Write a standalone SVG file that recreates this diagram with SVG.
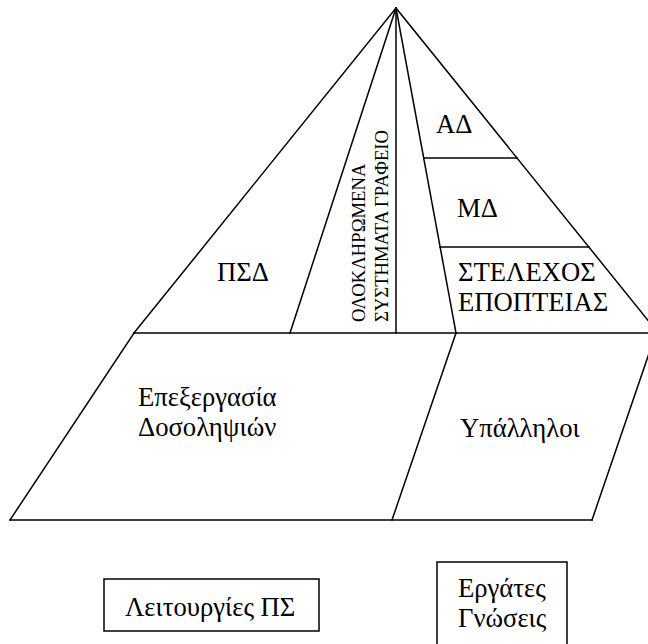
<svg xmlns="http://www.w3.org/2000/svg" width="648" height="644" viewBox="0 0 648 644">
<style>
.ln{stroke:#000;stroke-width:1.5;fill:none;stroke-linecap:square}
.bx{stroke:#000;stroke-width:1.5;fill:#fff}
.t{font-family:"Liberation Serif","DejaVu Serif","Times New Roman",serif;font-size:26.67px;fill:#000}
.v{font-family:"Liberation Serif","DejaVu Serif","Times New Roman",serif;font-size:18.67px;fill:#000}
</style>
<rect width="648" height="644" fill="#fff"/>
<g id="connectors">
<line class="ln" x1="396" y1="8" x2="134" y2="333"/>
<line class="ln" x1="396" y1="8" x2="290" y2="333"/>
<line class="ln" x1="396" y1="8" x2="396" y2="333"/>
<line class="ln" x1="396" y1="8" x2="456" y2="333"/>
<line class="ln" x1="396" y1="8" x2="659" y2="334"/>
<line class="ln" x1="424" y1="158" x2="517" y2="158"/>
<line class="ln" x1="440" y1="247" x2="589" y2="247"/>
<line class="ln" x1="134" y1="333" x2="648" y2="333"/>
<line class="ln" x1="134" y1="333" x2="10" y2="520"/>
<line class="ln" x1="10" y1="520" x2="592" y2="520"/>
<line class="ln" x1="456" y1="333" x2="392" y2="520"/>
<line class="ln" x1="592" y1="520" x2="656" y2="333"/>
</g>
<g id="psd"><text class="t" x="217" y="281">ΠΣΔ</text></g>
<g id="office"><text class="v" transform="translate(365,322) rotate(-90)">ΟΛΟΚΛΗΡΩΜΕΝΑ</text><text class="v" transform="translate(388,322) rotate(-90)">ΣΥΣΤΗΜΑΤΑ ΓΡΑΦΕΙΟ</text></g>
<g id="ad"><text class="t" x="436" y="133">ΑΔ</text></g>
<g id="md"><text class="t" x="457" y="217">ΜΔ</text></g>
<g id="supervisory"><text class="t" x="458" y="281">ΣΤΕΛΕΧΟΣ</text><text class="t" x="458" y="311">ΕΠΟΠΤΕΙΑΣ</text></g>
<g id="transactions"><text class="t" x="138" y="406">Επεξεργασία</text><text class="t" x="138" y="436">Δοσοληψιών</text></g>
<g id="employees"><text class="t" x="460" y="437">Υπάλληλοι</text></g>
<g id="functions"><rect class="bx" x="104" y="579" width="215" height="52"/><text class="t" x="125" y="616">Λειτουργίες ΠΣ</text></g>
<g id="knowledge"><rect class="bx" x="437" y="562" width="130" height="100"/><text class="t" x="458" y="597">Εργάτες</text><text class="t" x="458" y="627">Γνώσεις</text></g>
</svg>
